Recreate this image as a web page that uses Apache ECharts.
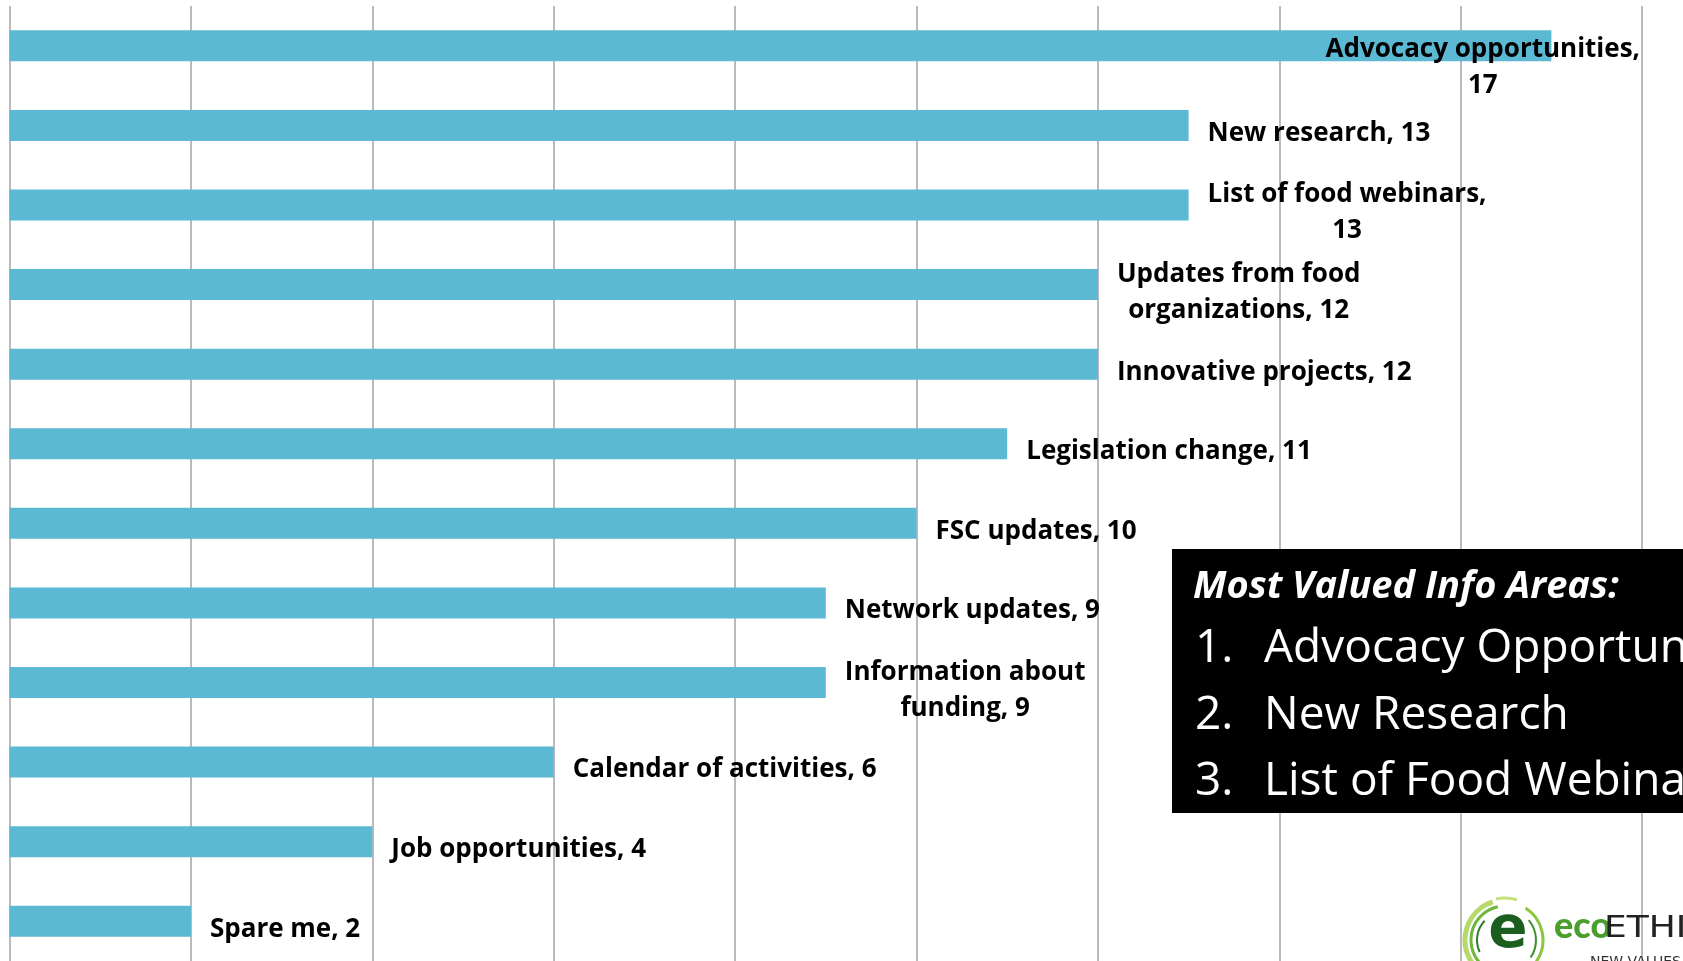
<!DOCTYPE html>
<html lang="en">
<head>
  <meta charset="UTF-8">
  <title>Most valued info areas</title>
  <style>
    html, body { margin: 0; padding: 0; background: #fff; }
    #main { width: 1683px; height: 961px; }
  </style>
</head>
<body>
<div id="main"></div>
<script src="https://cdn.jsdelivr.net/npm/echarts@6/dist/echarts.min.js"></script>
<script>
  // survey answers, top to bottom ('\n' = where the label wraps)
  var categories = [
    'Advocacy opportunities',
    'New research',
    'List of food webinars',
    'Updates from food\norganizations',
    'Innovative projects',
    'Legislation change',
    'FSC updates',
    'Network updates',
    'Information about\nfunding',
    'Calendar of activities',
    'Job opportunities',
    'Spare me'
  ];
  var values = [17, 13, 13, 12, 12, 11, 10, 9, 9, 6, 4, 2];
  // labels where the count goes on its own line
  var valueOnOwnLine = [0, 2];

  var boxTitle = 'Most Valued Info Areas:';
  var boxItems = ['Advocacy Opportunities', 'New Research', 'List of Food Webinars'];

  var W = 1683;
  var labelFont = '"Open Sans", "DejaVu Sans", sans-serif';

  var chartDom = document.getElementById('main');
  var myChart = echarts.init(chartDom);

  var graphics = [
    { type: 'rect', z: 100, shape: { x: 1172, y: 549, width: 560, height: 264 }, style: { fill: '#000' } },
    { type: 'text', z: 101, x: 1193, y: 587,
      style: { text: boxTitle, fill: '#fff', font: 'italic bold 38px ' + labelFont, verticalAlign: 'middle' } }
  ];
  boxItems.forEach(function (txt, i) {
    var y = 649 + i * 66.5;
    graphics.push({ type: 'text', z: 101, x: 1195, y: y,
      style: { text: (i + 1) + '.', fill: '#fff', font: '46px ' + labelFont, verticalAlign: 'middle' } });
    graphics.push({ type: 'text', z: 101, x: 1264, y: y,
      style: { text: txt, fill: '#fff', font: '46px ' + labelFont, verticalAlign: 'middle' } });
  });

  // logo, bottom right
  var lx = 1505, ly = 940;
  [
    { r: 40, a0: 1.9, a1: 4.4, c: '#b5d96a', w: 5 },
    { r: 34, a0: 2.3, a1: 4.5, c: '#6cb83a', w: 3 },
    { r: 28, a0: 2.7, a1: 3.9, c: '#2f7d2a', w: 2 },
    { r: 38, a0: -1.0, a1: 0.9, c: '#8cc63f', w: 3 },
    { r: 31, a0: -0.7, a1: 0.6, c: '#3f8f2f', w: 2 },
    { r: 35, a0: 1.3, a1: 1.9, c: '#45b3a6', w: 3 },
    { r: 42, a0: 4.5, a1: 5.0, c: '#c5e07a', w: 3 }
  ].forEach(function (a) {
    graphics.push({ type: 'arc', z: 50, shape: { cx: lx, cy: ly, r: a.r, startAngle: a.a0, endAngle: a.a1 },
      style: { stroke: a.c, lineWidth: a.w, fill: null } });
  });
  graphics.push({ type: 'text', z: 51, x: 1508, y: 932,
    style: { text: 'e', fill: '#1b5e20', font: 'bold 58px "DejaVu Sans", sans-serif', align: 'center', verticalAlign: 'middle' } });
  graphics.push({ type: 'text', z: 51, x: 1554, y: 926,
    style: { text: 'eco', fill: '#4a9e2e', font: '900 36px Lato, sans-serif', verticalAlign: 'middle' } });
  graphics.push({ type: 'text', z: 51, x: 1604, y: 929, scaleX: 1.2,
    style: { text: 'ETHICS', fill: '#222', font: '30px "DejaVu Sans", sans-serif', verticalAlign: 'middle' } });
  graphics.push({ type: 'text', z: 51, x: 1590, y: 962,
    style: { text: 'NEW VALUES', fill: '#333', font: '14px "DejaVu Sans", sans-serif', verticalAlign: 'middle' } });

  var option = {
    animation: false,
    backgroundColor: '#fff',
    grid: { left: 9.5, top: 6, width: 18 * 90.7, height: 958, containLabel: false },
    xAxis: {
      type: 'value',
      min: 0,
      max: 18,
      interval: 2,
      axisLabel: { show: false },
      axisLine: { show: false },
      axisTick: { show: false },
      splitLine: { show: true, lineStyle: { color: '#a3a3a3', width: 1.5 } }
    },
    yAxis: {
      type: 'category',
      inverse: true,
      data: categories,
      axisLabel: { show: false },
      axisLine: { show: false },
      axisTick: { show: false }
    },
    series: [{
      type: 'bar',
      data: values,
      barWidth: 31,
      itemStyle: { color: '#5bb9d3' },
      label: {
        show: true,
        position: 'right',
        distance: 19,
        formatter: function (p) {
          var sep = valueOnOwnLine.indexOf(p.dataIndex) >= 0 ? ',\n' : ', ';
          var text = p.name + sep + p.value;
          return text.split('\n').map(function (l) { return '{c|' + l + '}'; }).join('\n');
        },
        rich: {
          c: { align: 'center', fontFamily: labelFont, fontWeight: 'bold', fontSize: 26, lineHeight: 36, color: '#000' }
        }
      },
      // keep labels inside the slide, like the source does
      labelLayout: function (p) {
        var r = p.labelRect;
        var maxRight = W - 43, minTop = 37;
        if (r.x + r.width > maxRight || r.y < minTop) {
          return {
            x: Math.min(r.x, maxRight - r.width),
            y: Math.max(r.y, minTop) + r.height / 2,
            align: 'left',
            verticalAlign: 'middle'
          };
        }
        return { dy: 8 };
      }
    }],
    graphic: graphics
  };

  myChart.setOption(option);
</script>
</body>
</html>
